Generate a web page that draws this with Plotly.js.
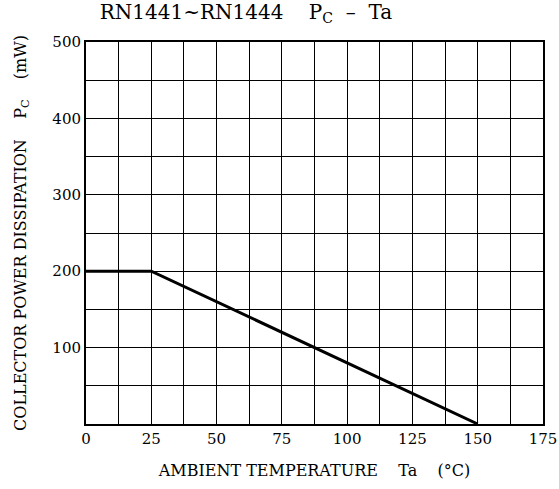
<!DOCTYPE html>
<html><head><meta charset="utf-8">
<script src="https://cdn.plot.ly/plotly-3.0.1.min.js"></script>
<style>html,body{margin:0;padding:0;background:#fff}</style>
</head><body><div id="chart" style="width:559px;height:489px"></div>
<script>
const temperature = [0, 25, 150];
const powerDissipation = [200, 200, 0];
const xTickVals = [0, 25, 50, 75, 100, 125, 150, 175];
const yTickVals = [100, 200, 300, 400, 500];

const font = {family: 'DejaVu Serif, Liberation Serif, serif', color: '#000'};

Plotly.newPlot('chart', [{
  x: temperature, y: powerDissipation, mode: 'lines', type: 'scatter',
  line: {color: '#000', width: 3}, hoverinfo: 'skip'
}], {
  width: 559, height: 489,
  margin: {l: 86, r: 16, t: 42, b: 65},
  paper_bgcolor: '#fff', plot_bgcolor: '#fff',
  showlegend: false,
  font: Object.assign({size: 14}, font),
  title: {text: 'RN1441~RN1444    P<sub>C</sub>  \u2013  Ta', x: 0.44, xanchor: 'center', y: 0.99, yanchor: 'top',
          font: Object.assign({size: 20}, font)},
  xaxis: {
    range: [0, 175], tickvals: xTickVals, ticktext: xTickVals.map(String),
    showgrid: true, gridcolor: '#000', gridwidth: 1,
    minor: {dtick: 12.5, tick0: 0, showgrid: true, gridcolor: '#000', gridwidth: 1},
    showline: true, linecolor: '#000', linewidth: 2, mirror: true,
    ticks: '', zeroline: false, fixedrange: true,
    tickfont: Object.assign({size: 15}, font),
    title: {text: 'AMBIENT TEMPERATURE    Ta    (\u00b0C)', standoff: 18, font: Object.assign({size: 16}, font)}
  },
  yaxis: {
    range: [0, 500], tickvals: yTickVals, ticktext: yTickVals.map(String),
    showgrid: true, gridcolor: '#000', gridwidth: 1,
    minor: {dtick: 50, tick0: 0, showgrid: true, gridcolor: '#000', gridwidth: 1},
    showline: true, linecolor: '#000', linewidth: 2, mirror: true,
    ticks: '', zeroline: false, fixedrange: true,
    tickfont: Object.assign({size: 15}, font),
    title: {text: 'COLLECTOR POWER DISSIPATION    P<sub>C</sub>    (mW)', standoff: 22, font: Object.assign({size: 16}, font)}
  }
}, {staticPlot: true});
</script></body></html>
